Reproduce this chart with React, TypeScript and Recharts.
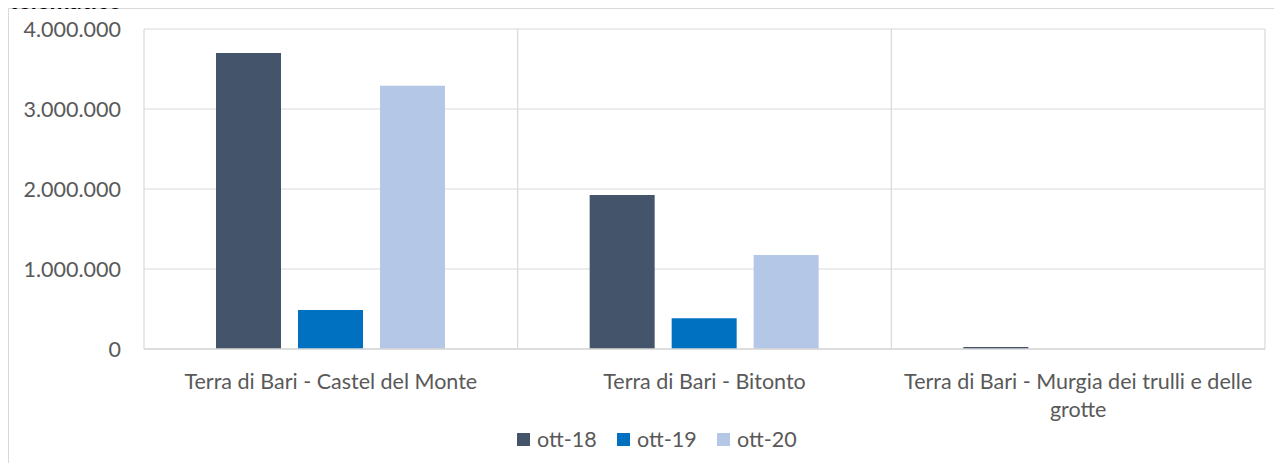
import React from 'react';
import { BarChart, Bar, XAxis, YAxis, CartesianGrid, Legend } from 'recharts';

const categories = [
  'Terra di Bari - Castel del Monte',
  'Terra di Bari - Bitonto',
  'Terra di Bari - Murgia dei trulli e delle grotte',
];
const ott18 = [3700000, 1925000, 25000];
const ott19 = [488000, 385000, 0];
const ott20 = [3290000, 1175000, 0];
const yTicks = [0, 1000000, 2000000, 3000000, 4000000];
const seriesNames = ['ott-18', 'ott-19', 'ott-20'];
const seriesColors = ['#44546A', '#0070C0', '#B4C7E7'];

const data = categories.map((c, i) => ({
  name: c,
  'ott-18': ott18[i],
  'ott-19': ott19[i],
  'ott-20': ott20[i],
}));

const FONT = 'Lato, "Open Sans", sans-serif';
const TEXT_COLOR = '#595959';
const FS = 21.5;

const fmt = (v: number) => String(v).replace(/\B(?=(\d{3})+(?!\d))/g, '.');

let ctx: CanvasRenderingContext2D | null = null;
const measure = (s: string) => {
  if (!ctx) ctx = document.createElement('canvas').getContext('2d');
  if (!ctx) return s.length * FS * 0.5;
  ctx.font = `${FS}px Lato`;
  return ctx.measureText(s).width;
};

const wrap = (label: string, maxW: number) => {
  const words = label.split(' ');
  const lines: string[] = [];
  let cur = '';
  words.forEach((w) => {
    const t = cur ? cur + ' ' + w : w;
    if (cur && measure(t) > maxW) {
      lines.push(cur);
      cur = w;
    } else cur = t;
  });
  if (cur) lines.push(cur);
  return lines;
};

const XTick = (props: any) => {
  const { x, y, payload } = props;
  const lines = wrap(String(payload.value), 365);
  return (
    <text x={x} y={y} textAnchor="middle" fill={TEXT_COLOR} fontFamily={FONT} fontSize={FS}>
      {lines.map((l, i) => (
        <tspan key={i} x={x} dy={i === 0 ? '0.71em' : 28}>
          {l}
        </tspan>
      ))}
    </text>
  );
};

const LegendContent = () => (
  <div style={{ display: 'flex', fontFamily: FONT, fontSize: FS, color: TEXT_COLOR, paddingLeft: 517 }}>
    {seriesNames.map((n, i) => (
      <div key={n} style={{ display: 'flex', alignItems: 'center', width: 100 }}>
        <span style={{ display: 'inline-block', width: 13, height: 13, background: seriesColors[i], marginRight: 7 }} />
        <span>{n}</span>
      </div>
    ))}
  </div>
);

export default function App() {
  return (
    <div style={{ position: 'relative', margin: -8, width: 1282, height: 471, overflow: 'hidden', background: '#fff' }}>
      <div
        style={{
          position: 'absolute', left: 8, top: 8, width: 1300, height: 500,
          border: '1.5px solid #D9D9D9', boxSizing: 'border-box',
        }}
      />
      <div style={{ position: 'absolute', left: 0, top: 0 }}>
        <BarChart
          width={1282}
          height={471}
          data={data}
          margin={{ top: 29, right: 17, bottom: 62, left: 0 }}
          barSize={65}
          barGap={17}
        >
          <CartesianGrid
            stroke="#D9D9D9"
            strokeWidth={1.2}
            verticalCoordinatesGenerator={({ offset }: any) =>
              Array.from({ length: categories.length + 1 }, (_, i) => offset.left + (offset.width * i) / categories.length)
            }
          />
          <XAxis
            dataKey="name"
            height={60}
            axisLine={{ stroke: '#D9D9D9', strokeWidth: 1.5 }}
            tickLine={false}
            tickSize={0}
            tickMargin={25}
            interval={0}
            tick={<XTick />}
          />
          <YAxis
            width={144}
            domain={[0, 4000000]}
            ticks={yTicks}
            tickFormatter={fmt}
            axisLine={false}
            tickLine={false}
            tickSize={0}
            tickMargin={23}
            tick={{ fill: TEXT_COLOR, fontFamily: FONT, fontSize: FS }}
          />
          <Legend
            layout="horizontal"
            verticalAlign="middle"
            align="center"
            wrapperStyle={{ top: 426, left: 0, width: 1282 }}
            content={<LegendContent />}
          />
          {seriesNames.map((n, i) => (
            <Bar key={n} dataKey={n} fill={seriesColors[i]} isAnimationActive={false} />
          ))}
        </BarChart>
      </div>
      <div
        style={{
          position: 'absolute', left: 9, top: -12, zIndex: 5, fontFamily: FONT, fontWeight: 'bold',
          fontSize: 24, lineHeight: '24px', color: '#000', whiteSpace: 'nowrap',
        }}
      >
        telematico
      </div>
    </div>
  );
}
